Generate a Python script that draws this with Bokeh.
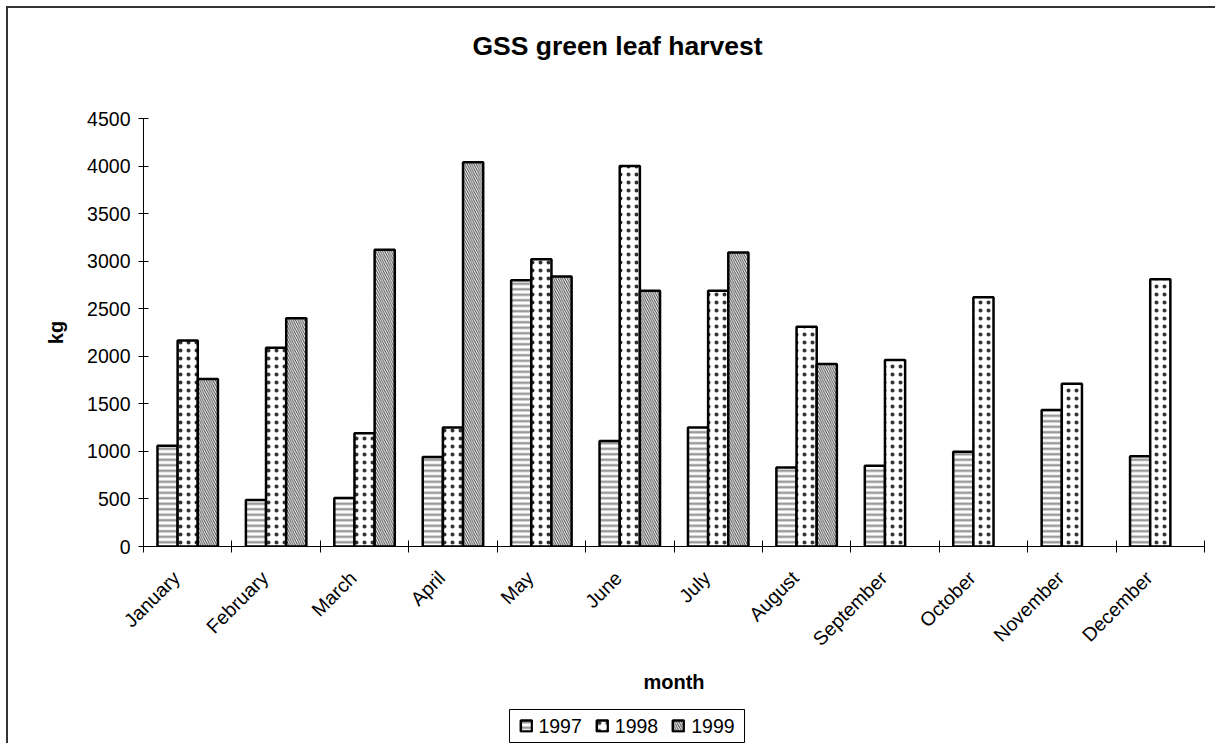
import math
from bokeh.plotting import figure
from bokeh.layouts import column, row
from bokeh.models import (Range1d, FixedTicker, LinearAxis, Legend, LegendItem,
                          ColumnDataSource, Spacer)
from bokeh.core.properties import value
from bokeh.embed import file_html
from bokeh.resources import INLINE

months = ["January", "February", "March", "April", "May", "June", "July",
          "August", "September", "October", "November", "December"]
years = ["1997", "1998", "1999"]
v1997 = [1060, 490, 510, 940, 2800, 1110, 1250, 830, 850, 995, 1435, 950]
v1998 = [2165, 2090, 1190, 1250, 3020, 4000, 2690, 2310, 1960, 2620, 1710, 2810]
v1999 = [1760, 2400, 3120, 4040, 2840, 2690, 3090, 1920, None, None, None, None]
y_ticks = [0, 500, 1000, 1500, 2000, 2500, 3000, 3500, 4000, 4500]
title_text = "GSS green leaf harvest"

FONT = "Liberation Sans"
W = 1207
FRAME_W = 1061  # pixel width of the plotting frame (columns align frames)

# ---- title strip (its frame is aligned with the chart frame) ----
tf = figure(width=W, height=74, output_backend="svg", toolbar_location=None,
            x_range=Range1d(0, FRAME_W), y_range=Range1d(0, 74),
            x_axis_type=None, y_axis_type=None, min_border=0)
tf.outline_line_color = None
tf.grid.visible = False
tf.text(x=[474], y=[37], text=[title_text], text_align="center",
        text_baseline="middle", text_font=value(FONT), text_font_size="26.5px",
        text_font_style="bold", text_color="black")

# ---- main chart ----
p = figure(width=W, height=626, output_backend="svg", toolbar_location=None,
           x_range=Range1d(0, 12), y_range=Range1d(0, 4500),
           x_axis_type=None, y_axis_type=None,
           min_border_left=135, min_border_right=11, min_border_top=36,
           min_border_bottom=162)
p.outline_line_color = None
p.background_fill_color = "white"
p.border_fill_color = "white"

yaxis = LinearAxis(ticker=FixedTicker(ticks=y_ticks), axis_label="kg")
yaxis.axis_label_text_font = FONT
yaxis.axis_label_text_font_size = "20px"
yaxis.axis_label_text_font_style = "bold"
yaxis.axis_label_text_color = "black"
yaxis.axis_label_standoff = 17
yaxis.major_label_text_font = FONT
yaxis.major_label_text_font_size = "19.5px"
yaxis.major_label_text_color = "black"
yaxis.major_label_standoff = 8
yaxis.major_tick_in = 5
yaxis.major_tick_out = 5
yaxis.minor_tick_line_color = None
yaxis.axis_line_color = "black"
yaxis.major_tick_line_color = "black"
p.add_layout(yaxis, "left")

centers = [i + 0.5 for i in range(len(months))]
label_pos = [round(c - 0.13, 3) for c in centers]
xaxis = LinearAxis(ticker=FixedTicker(ticks=label_pos,
                                      minor_ticks=list(range(len(months) + 1))),
                   axis_label="month")
xaxis.major_label_overrides = {lp: m for lp, m in zip(label_pos, months)}
xaxis.major_label_orientation = math.pi / 4
xaxis.major_label_text_font = FONT
xaxis.major_label_text_font_size = "19.5px"
xaxis.major_label_text_color = "black"
xaxis.major_label_standoff = 22
xaxis.major_tick_in = 0
xaxis.major_tick_out = 0
xaxis.minor_tick_in = 6
xaxis.minor_tick_out = 6
xaxis.minor_tick_line_color = "black"
xaxis.axis_line_color = "black"
xaxis.axis_label_text_font = FONT
xaxis.axis_label_text_font_size = "20px"
xaxis.axis_label_text_font_style = "bold"
xaxis.axis_label_text_color = "black"
xaxis.axis_label_standoff = 10
p.add_layout(xaxis, "below")

bw = 0.228
styles = [
    dict(hatch_pattern="horizontal_line", hatch_color="#9a9a9a", hatch_weight=2.5, hatch_scale=5.5),
    dict(hatch_pattern="dot", hatch_color="black", hatch_weight=0.6, hatch_scale=8, hatch_alpha=0.8),
    dict(hatch_pattern="left_diagonal_line", hatch_color="#444444", hatch_weight=1, hatch_scale=4.5),
]
for k, (yr, vals) in enumerate(zip(years, [v1997, v1998, v1999])):
    xs = [c + (k - 1) * bw for c, v in zip(centers, vals) if v is not None]
    tops = [v for v in vals if v is not None]
    src = ColumnDataSource(dict(x=xs, top=tops))
    p.vbar(x="x", top="top", width=bw, bottom=0, source=src,
           fill_color="white", line_color="black", line_width=2.5,
           **styles[k])

# ---- legend box ----
lg = figure(width=237, height=35, output_backend="svg", toolbar_location=None,
            x_range=Range1d(0, 1), y_range=Range1d(0, 1),
            x_axis_type=None, y_axis_type=None, min_border=1)
lg.outline_line_color = "black"
lg.outline_line_width = 1
lg.grid.visible = False
items = []
for k, yr in enumerate(years):
    # swatch renderer kept outside the visible range; only its legend glyph shows
    r = lg.vbar(x=[5], top=[5], bottom=[4], width=0.1, fill_color="white",
                line_color="black", line_width=2.5, **styles[k])
    items.append(LegendItem(label=yr, renderers=[r]))
legend = Legend(items=items, orientation="horizontal", location="center")
legend.label_text_font = FONT
legend.label_text_font_size = "19.5px"
legend.label_text_color = "black"
legend.glyph_width = 14
legend.glyph_height = 14
legend.label_standoff = 6
legend.spacing = 13
legend.padding = 0
legend.margin = 0
legend.border_line_color = None
legend.background_fill_alpha = 0
legend.label_height = 20
lg.add_layout(legend, "center")

layout = column(tf, p, row(Spacer(width=500, height=35), lg),
                styles={"border-left": "2px solid #333", "border-top": "2px solid #333",
                        "margin-left": "6px", "margin-top": "6px"})

open("out.html", "w").write(file_html(layout, INLINE))
